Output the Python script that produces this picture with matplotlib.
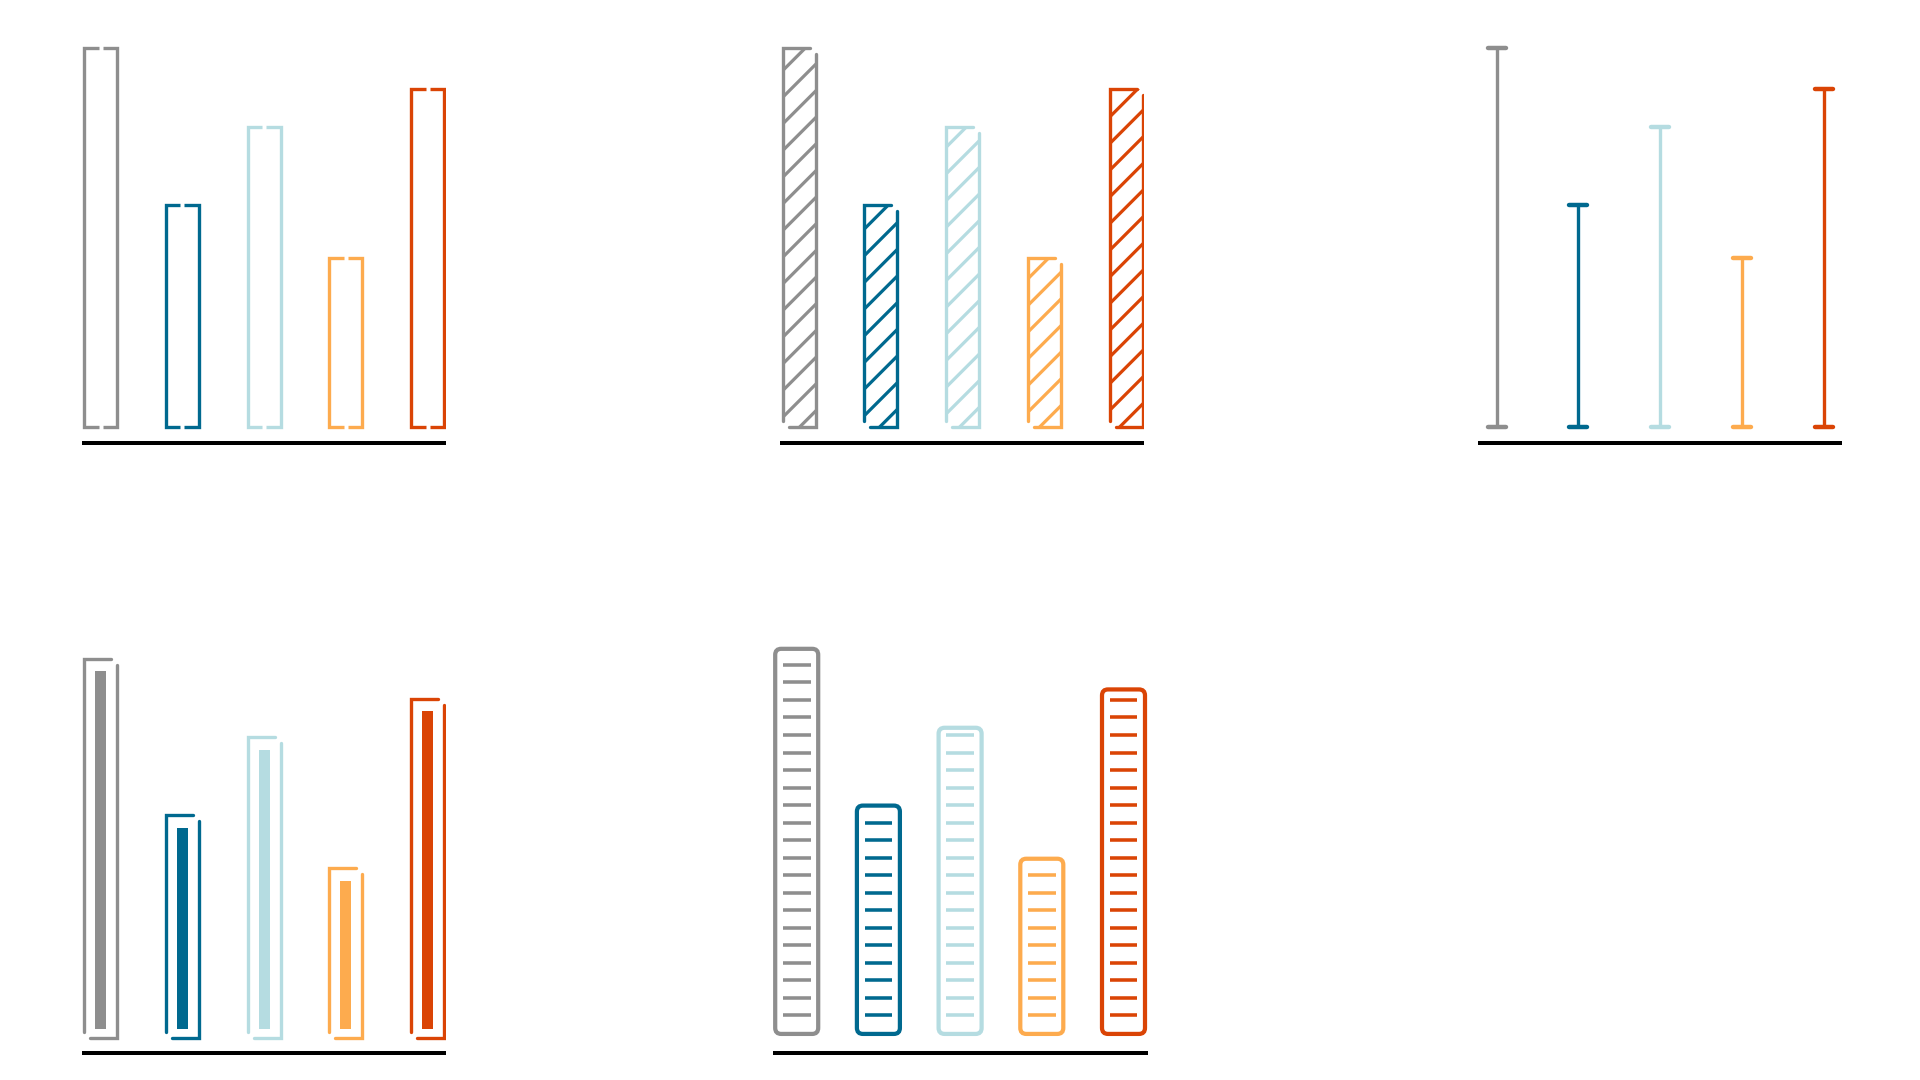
import numpy as np
import matplotlib
matplotlib.use('Agg')
import matplotlib.pyplot as plt
from matplotlib.patches import FancyBboxPatch

# ---- data ----
categories = ['A', 'B', 'C', 'D', 'E']
values = [100, 58.7, 79.2, 44.7, 89.3]
colors = ['#8E8E8E', '#00698F', '#B5DCE1', '#FDAB4E', '#DA4405']

plt.rcParams['hatch.linewidth'] = 1.45

W, H, DPI = 1920, 1080, 160
fig = plt.figure(figsize=(W / DPI, H / DPI), dpi=DPI)
fig.patch.set_facecolor('white')

PXX, PXY = 81.7, 3.796     # pixels per data unit (x, y)
GAP = 15.2                 # px between bar baseline and axis line
dx, dy = 1 / PXX, 1 / PXY
LW = 1.5


def make_ax(left_px, axis_px, c0_px, width_px):
    x0 = -(c0_px - left_px) / PXX
    x1 = x0 + width_px / PXX
    yb = -GAP / PXY
    yt = 106.0
    hpx = (yt - yb) * PXY
    ax = fig.add_axes([left_px / W, 1 - axis_px / H, width_px / W, hpx / H])
    ax.set_xlim(x0, x1)
    ax.set_ylim(yb, yt)
    for s in ['left', 'right', 'top']:
        ax.spines[s].set_visible(False)
    ax.spines['bottom'].set_linewidth(1.8)
    ax.spines['bottom'].set_color('black')
    ax.spines['bottom'].set_capstyle('butt')
    ax.set_xticks([])
    ax.set_yticks([])
    ax.patch.set_alpha(0)
    return ax


def sketch(ax, xi, v, c, hw, lw):
    gv, gh = 6 * dy, 6 * dx
    ax.plot([xi - hw, xi - hw, xi + hw - gh], [gv, v, v], color=c, lw=lw,
            solid_capstyle='round', solid_joinstyle='miter')
    ax.plot([xi + hw, xi + hw, xi - hw + gh], [v - gv, 0, 0], color=c, lw=lw,
            solid_capstyle='round', solid_joinstyle='miter')


x = np.arange(len(values))
hw = 16.5 * dx

# ---- Panel 1: outline with gaps ----
ax1 = make_ax(82, 442.7, 100.7, 364)
g = 2 * dx
for xi, v, c in zip(x, values, colors):
    ax1.plot([xi - g, xi - hw, xi - hw, xi - g], [v, v, 0, 0], color=c, lw=LW,
             solid_joinstyle='miter', solid_capstyle='butt')
    ax1.plot([xi + g, xi + hw, xi + hw, xi + g], [v, v, 0, 0], color=c, lw=LW,
             solid_joinstyle='miter', solid_capstyle='butt')

# ---- Panel 2: hatched sketch bars ----
ax2 = make_ax(780, 442.7, 799.2, 364)
ax2.bar(x, values, width=2 * hw, facecolor='none', edgecolor=colors,
        linewidth=0, hatch='//')
for xi, v, c in zip(x, values, colors):
    sketch(ax2, xi, v, c, hw, LW)

# ---- Panel 3: I-beams ----
ax3 = make_ax(1478, 442.7, 1496.7, 364)
ax3.vlines(x, 0, values, colors=colors, lw=LW)
cw = 9 * dx
for xi, v, c in zip(x, values, colors):
    ax3.plot([xi - cw, xi + cw], [v, v], color=c, lw=2.0, solid_capstyle='round')
    ax3.plot([xi - cw, xi + cw], [0, 0], color=c, lw=2.0, solid_capstyle='round')

# ---- Panel 4: sketch outline with inner bar ----
ax4 = make_ax(82, 1053.3, 100.7, 364)
inner_bot = 9 * dy
inner_top_gap = 12.3 * dy
ax4.bar(x, [v - inner_top_gap - inner_bot for v in values], bottom=inner_bot,
        width=10.8 * dx, color=colors, linewidth=0)
for xi, v, c in zip(x, values, colors):
    sketch(ax4, xi, v, c, hw, LW)

# ---- Panel 5: rounded boxes with dashes ----
ax5 = make_ax(772.7, 1053.3, 796.7, 375)
bhw = 21.5 * dx
box_bot = 1.1
box_pad = 2.55
step = 17.53 * dy
first = 22.6 * dy
dash_hw = 13.8 * dx
aspect = PXX / PXY
for xi, v, c in zip(x, values, colors):
    box = FancyBboxPatch((xi - bhw, box_bot), 2 * bhw, v + box_pad - box_bot,
                         boxstyle='round,pad=0,rounding_size=%f' % (6 * dx),
                         mutation_aspect=aspect, facecolor='none',
                         edgecolor=c, linewidth=1.9)
    ax5.add_patch(box)
    ys = np.arange(first, v + 0.8, step)
    ax5.hlines(ys, xi - dash_hw, xi + dash_hw, colors=c, lw=1.6)

fig.savefig('out.png', dpi=DPI, facecolor='white')
